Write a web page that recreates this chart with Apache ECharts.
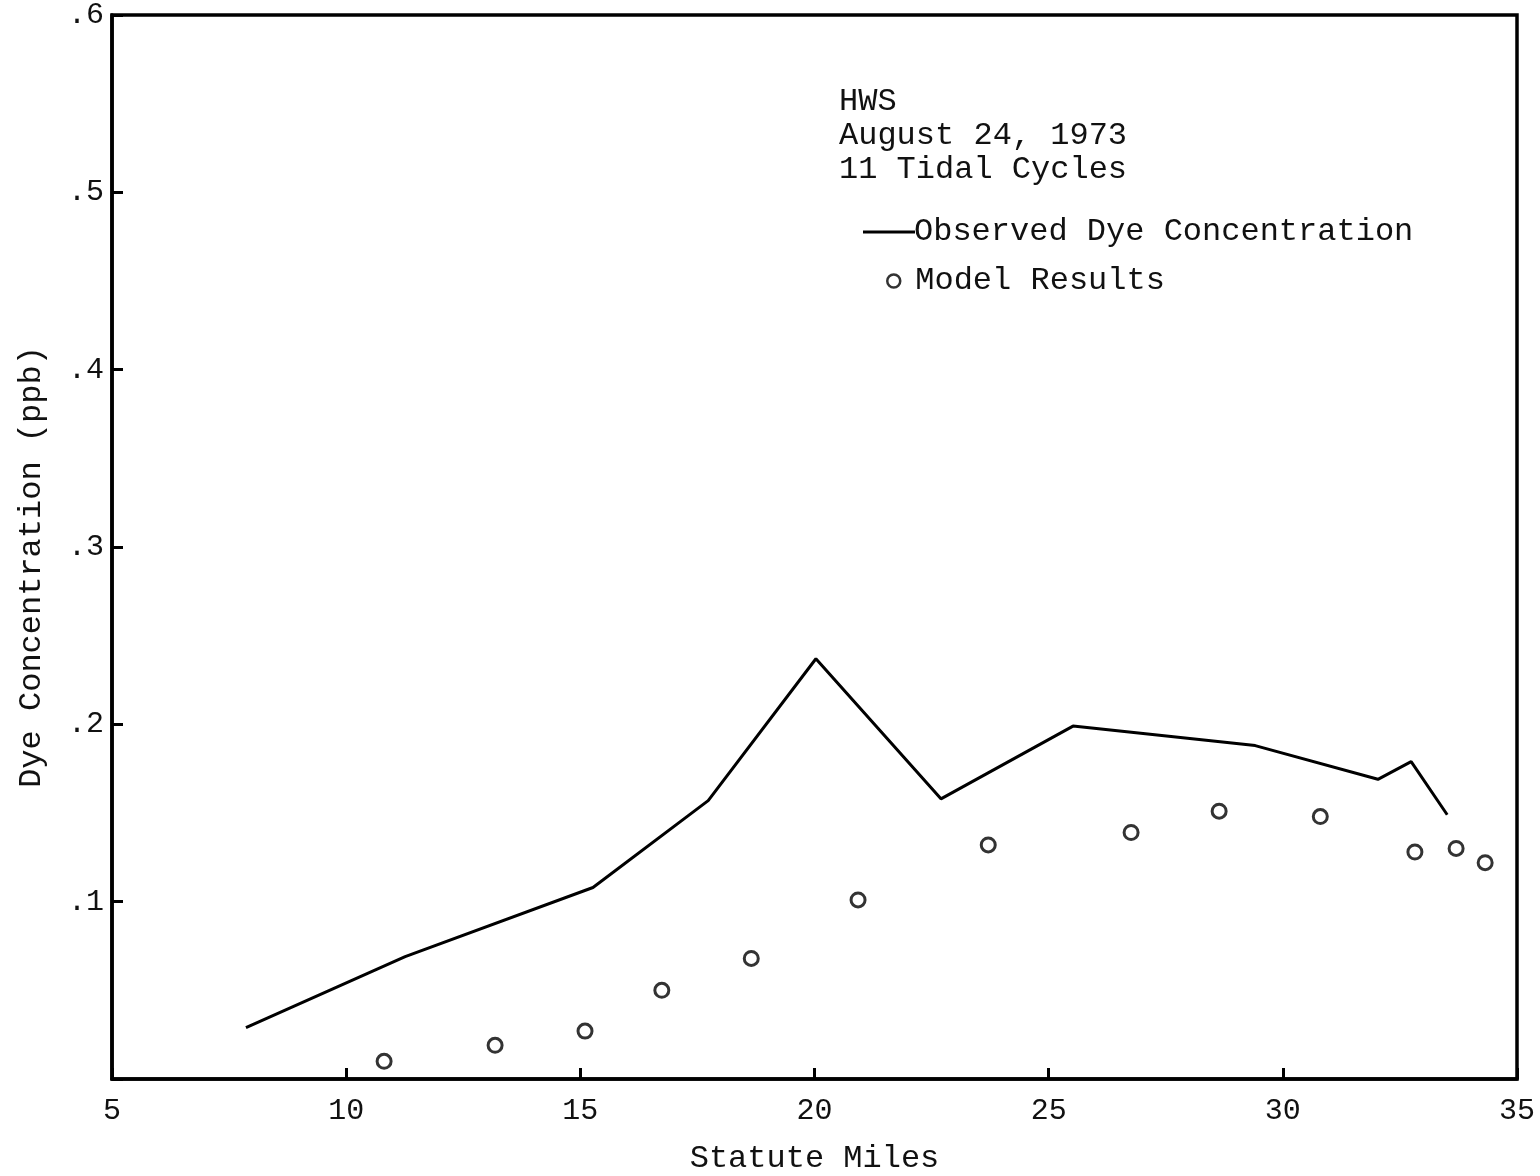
<!DOCTYPE html>
<html>
<head>
<meta charset="utf-8">
<script src="https://cdn.jsdelivr.net/npm/echarts@6/dist/echarts.min.js"></script>
<style>
html,body{margin:0;padding:0;background:#fff;}
#chart{width:1540px;height:1176px;}
</style>
</head>
<body>
<div id="chart"></div>
<script>
// Observed dye concentration (miles, ppb)
var observedMiles = [7.86, 11.26, 15.27, 17.73, 20.03, 22.70, 25.52, 29.41, 32.03, 32.74, 33.51];
var observedConc  = [0.029, 0.069, 0.108, 0.157, 0.237, 0.158, 0.199, 0.188, 0.169, 0.179, 0.149];
// Model results
var modelMiles = [10.81, 13.18, 15.10, 16.74, 18.65, 20.93, 23.71, 26.76, 28.64, 30.80, 32.82, 33.70, 34.32];
var modelConc  = [0.010, 0.019, 0.027, 0.050, 0.068, 0.101, 0.132, 0.139, 0.151, 0.148, 0.128, 0.130, 0.122];
var yTickLabels = ['', '.1', '.2', '.3', '.4', '.5', '.6'];
var annotation = ['HWS', 'August 24, 1973', '11 Tidal Cycles'];

var FONT = '"Liberation Mono", "DejaVu Sans Mono", monospace';
var chart = echarts.init(document.getElementById('chart'), null, {renderer: 'canvas'});
var obsData = observedMiles.map(function (m, i) { return [m, observedConc[i]]; });
var modData = modelMiles.map(function (m, i) { return [m, modelConc[i]]; });

chart.setOption({
  backgroundColor: '#fff',
  animation: false,
  title: {
    text: annotation.join('\n'),
    left: 834, top: 80,
    textStyle: {fontFamily: FONT, fontSize: 32, fontWeight: 'normal', color: '#111', lineHeight: 34}
  },
  legend: [{
    data: [{name: 'Observed Dye Concentration', icon: 'rect'}],
    left: 858, top: 211, itemWidth: 52, itemHeight: 3,
    textStyle: {fontFamily: FONT, fontSize: 32, color: '#111', padding: [0, 0, 0, -6]},
    itemStyle: {color: '#000', borderWidth: 0}
  }, {
    data: [{name: 'Model Results', icon: 'circle'}],
    left: 881, top: 260, itemWidth: 13, itemHeight: 13,
    textStyle: {fontFamily: FONT, fontSize: 32, color: '#111', padding: [0, 0, 0, 10]},
    itemStyle: {color: '#fff', borderColor: '#000', borderWidth: 2.5}
  }],
  grid: {left: 112, top: 15, width: 1405, height: 1064, show: true, borderColor: '#000', borderWidth: 3.5,
         containLabel: false, outerBoundsMode: 'none'},
  xAxis: {
    type: 'value', min: 5, max: 35, interval: 5,
    name: 'Statute Miles', nameLocation: 'middle', nameGap: 64,
    nameTextStyle: {fontFamily: FONT, fontSize: 32, color: '#111'},
    axisLine: {lineStyle: {color: '#000', width: 3.5}},
    axisTick: {inside: true, length: 11, lineStyle: {color: '#000', width: 3}},
    axisLabel: {fontFamily: FONT, fontSize: 30, color: '#111', margin: 17},
    splitLine: {show: false}
  },
  yAxis: {
    type: 'value', min: 0, max: 0.6, interval: 0.1,
    name: 'Dye Concentration (ppb)', nameLocation: 'middle', nameGap: 64,
    nameTextStyle: {fontFamily: FONT, fontSize: 32, color: '#111', padding: [0, 40, 0, 0]},
    axisLine: {lineStyle: {color: '#000', width: 3.5}},
    axisTick: {inside: true, length: 11, lineStyle: {color: '#000', width: 3}},
    axisLabel: {
      fontFamily: FONT, fontSize: 30, color: '#111', margin: 8,
      formatter: function (v) { return yTickLabels[Math.round(v * 10)]; }
    },
    splitLine: {show: false}
  },
  series: [{
    name: 'Observed Dye Concentration', type: 'line', data: obsData,
    symbol: 'none', lineStyle: {color: '#000', width: 3}, itemStyle: {color: '#000'}
  }, {
    name: 'Model Results', type: 'scatter', data: modData,
    symbol: 'circle', symbolSize: 14,
    itemStyle: {color: '#fff', borderColor: '#000', borderWidth: 3}
  }]
});
</script>
</body>
</html>
